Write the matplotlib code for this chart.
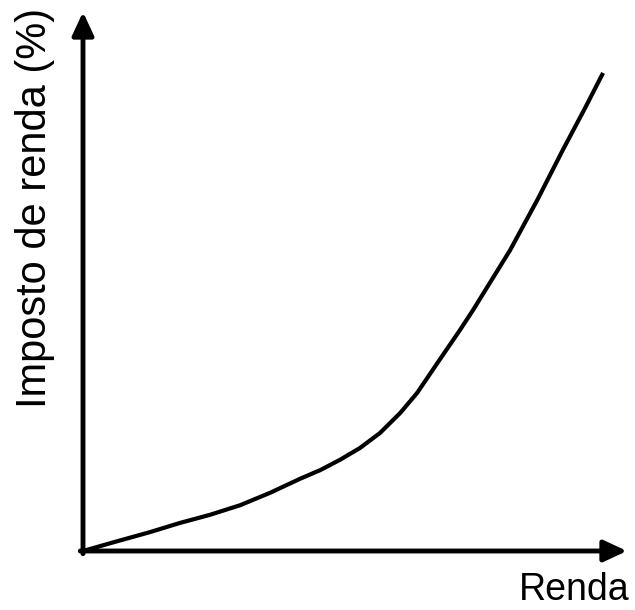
import matplotlib as mpl
mpl.use('Agg')
mpl.rcParams['font.family'] = ['Liberation Sans', 'DejaVu Sans']
import matplotlib.pyplot as plt

# income (x) vs income tax rate (y), arbitrary units 0..100
renda = [0, 5.9, 12.3, 17.8, 23.3, 28.9, 34.4, 39.9, 43.6, 47.2, 50.9, 54.6, 58.3,
         61.4, 65.3, 69.3, 71.7, 78.5, 83.5, 88.2, 92.3, 95.6]
imposto = [0, 1.7, 3.5, 5.2, 6.7, 8.5, 10.8, 13.4, 15.0, 16.9, 19.1, 21.9, 25.6,
           29.3, 35.1, 41.0, 44.7, 55.8, 65.1, 74.4, 82.2, 88.7]

fig = plt.figure(figsize=(6.35, 6.10), dpi=100)
ax = fig.add_axes([83 / 635, 59 / 610, 544 / 635, 539 / 610])
ax.set_xlim(0, 100)
ax.set_ylim(0, 100)
ax.axis('off')

ax.plot(renda, imposto, color='black', lw=3, solid_capstyle='butt', solid_joinstyle='round')

arrow = dict(arrowstyle='-|>,head_length=1.4,head_width=0.65', lw=3.5, color='black',
             shrinkA=0, shrinkB=0)
ax.annotate('', xy=(100, 0), xytext=(-0.5, 0), arrowprops=arrow)
ax.annotate('', xy=(0, 100), xytext=(0, -0.5), arrowprops=arrow)

fig.text(630 / 635, 1 - 600 / 610, 'Renda', fontsize=27, ha='right', va='baseline')
fig.text(35 / 635, 1 - 208 / 610, 'Imposto de renda (%)', fontsize=30, rotation=90,
         ha='center', va='center')

fig.savefig('out.png', dpi=100, facecolor='white')
